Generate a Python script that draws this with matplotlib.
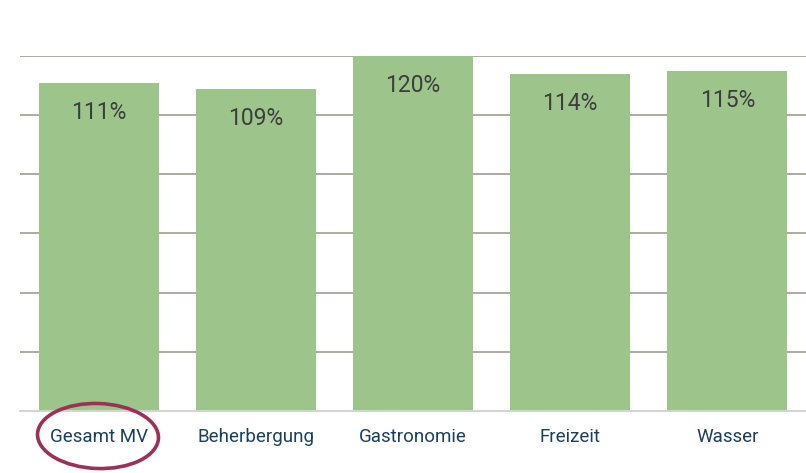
import matplotlib
matplotlib.use('Agg')
from matplotlib import pyplot as plt
from matplotlib.patches import Ellipse

# data
categories = ['Gesamt MV', 'Beherbergung', 'Gastronomie', 'Freizeit', 'Wasser']
values = [111, 109, 120, 114, 115]
grid_ticks = [20, 40, 60, 80, 100, 120]

plt.rcParams['font.family'] = ['Roboto', 'DejaVu Sans']

fig = plt.figure(figsize=(8.06, 4.73), dpi=100)
ax = fig.add_axes([20 / 806, 62 / 473, 786 / 806, 355 / 473])

x = list(range(len(categories)))
bars = ax.bar(x, values, width=0.763, color='#9dc58b', zorder=3)

# horizontal gridlines behind the bars
for t in grid_ticks:
    ax.axhline(t, color='#a8a497', lw=1.3, zorder=1)

for b, v in zip(bars, values):
    ax.annotate(f'{v}%', (b.get_x() + b.get_width() / 2, v),
                xytext=(0, -21.5), textcoords='offset points',
                ha='center', va='center', fontsize=16.5, color='#3d3d3d', zorder=4)

ax.set_xlim(-0.5, 4.5)
ax.set_ylim(0, 120)
ax.set_xticks(x)
ax.set_xticklabels(categories, fontsize=13.5, color='#1d3f5e')
ax.tick_params(axis='x', length=0, pad=12)
ax.set_yticks([])
for s in ['top', 'left', 'right']:
    ax.spines[s].set_visible(False)
ax.spines['bottom'].set_color('#d4d4d4')
ax.spines['bottom'].set_linewidth(1.5)
ax.spines['bottom'].set_zorder(5)

# hand-drawn circle around the first label
ell = Ellipse((0.98, 0.37), 1.21, 0.65, angle=-2, fill=False,
              edgecolor='#9c3058', lw=2.6, transform=fig.dpi_scale_trans)
fig.patches.append(ell)

fig.savefig('out.png', dpi=100)
